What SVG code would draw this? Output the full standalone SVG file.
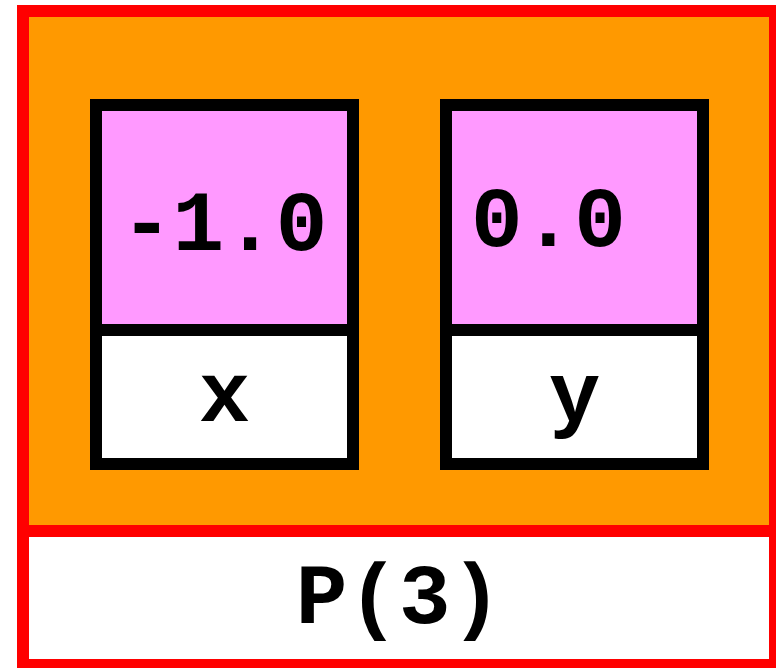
<svg xmlns="http://www.w3.org/2000/svg" width="776" height="668" viewBox="0 0 776 668">
<style>
.t{font-family:"Liberation Mono","Courier New",monospace;font-weight:bold;font-size:86px;fill:#000}
.box{stroke:#000;stroke-width:12}
</style>
<rect x="0" y="0" width="776" height="668" fill="#fff"/>
<g id="P3">
<rect x="23" y="11" width="752" height="520" fill="#FF9900" stroke="#FF0000" stroke-width="12"/>
<rect x="23" y="531" width="752" height="134" fill="#fff" stroke="#FF0000" stroke-width="12"/>
<text class="t" x="399" y="623" text-anchor="middle">P(3)</text>
</g>
<g id="x">
<rect class="box" x="96" y="105" width="257" height="225" fill="#FF99FF"/>
<rect class="box" x="96" y="330" width="257" height="134" fill="#fff"/>
<text class="t" x="121" y="250">-1.0</text>
<text class="t" x="224.5" y="421" text-anchor="middle">x</text>
</g>
<g id="y">
<rect class="box" x="446" y="105" width="257" height="225" fill="#FF99FF"/>
<rect class="box" x="446" y="330" width="257" height="134" fill="#fff"/>
<text class="t" x="471" y="246">0.0</text>
<text class="t" x="574.5" y="421" text-anchor="middle">y</text>
</g>
<g id="connectors"/>
</svg>
